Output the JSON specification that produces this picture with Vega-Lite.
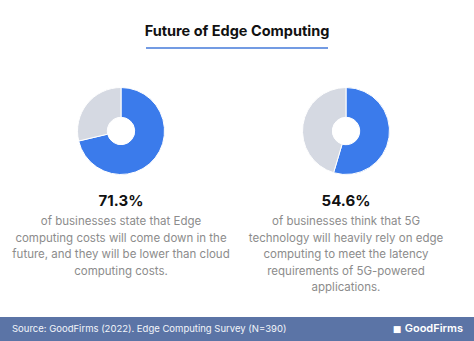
{
  "$schema": "https://vega.github.io/schema/vega-lite/v6.json",
  "width": 474,
  "height": 341,
  "autosize": {"type": "fit", "contains": "padding"},
  "padding": 0,
  "background": "white",
  "config": {"view": {"stroke": null}, "font": "Inter"},
  "datasets": {
    "shares": [
      {"panel": "left", "answer": "agree", "share": 0.713},
      {"panel": "left", "answer": "other", "share": 0.287},
      {"panel": "right", "answer": "agree", "share": 0.546},
      {"panel": "right", "answer": "other", "share": 0.454}
    ],
    "captions": [
      {"panel": "left", "line": 1, "text": "of businesses state that Edge"},
      {"panel": "left", "line": 2, "text": "computing costs will come down in the"},
      {"panel": "left", "line": 3, "text": "future, and they will be lower than cloud"},
      {"panel": "left", "line": 4, "text": "computing costs."},
      {"panel": "right", "line": 1, "text": "of businesses think that 5G"},
      {"panel": "right", "line": 2, "text": "technology will heavily rely on edge"},
      {"panel": "right", "line": 3, "text": "computing to meet the latency"},
      {"panel": "right", "line": 4, "text": "requirements of 5G-powered"},
      {"panel": "right", "line": 5, "text": "applications."}
    ],
    "headline": [{"text": "Future of Edge Computing"}],
    "footer": [{"source": "Source: GoodFirms (2022). Edge Computing Survey (N=390)", "brand": "GoodFirms", "icon": "■"}]
  },
  "layer": [
    {
      "data": {"name": "footer"},
      "mark": {"type": "rect", "color": "#5b74a6"},
      "encoding": {"x": {"value": 0}, "x2": {"value": 474}, "y": {"value": 317}, "y2": {"value": 341}}
    },
    {
      "data": {"name": "footer"},
      "mark": {"type": "text", "align": "left", "baseline": "middle", "fontSize": 9.5, "color": "#f2f4fa", "x": 12, "y": 329},
      "encoding": {"text": {"field": "source"}}
    },
    {
      "data": {"name": "footer"},
      "mark": {"type": "text", "align": "right", "baseline": "middle", "fontSize": 11, "fontWeight": 600, "color": "#ffffff", "x": 463, "y": 329},
      "encoding": {"text": {"field": "brand"}}
    },
    {
      "data": {"name": "footer"},
      "mark": {"type": "text", "align": "center", "baseline": "middle", "fontSize": 9, "font": "DejaVu Sans", "color": "#ffffff", "x": 397, "y": 329},
      "encoding": {"text": {"field": "icon"}}
    },
    {
      "data": {"name": "headline"},
      "mark": {"type": "text", "align": "center", "baseline": "middle", "fontSize": 14.5, "fontWeight": "bold", "color": "#111111", "x": 237, "y": 32},
      "encoding": {"text": {"field": "text"}}
    },
    {
      "data": {"name": "headline"},
      "mark": {"type": "rule", "color": "#739be3", "strokeWidth": 2},
      "encoding": {"x": {"value": 146}, "x2": {"value": 328}, "y": {"value": 48}}
    },
    {
      "data": {"name": "shares"},
      "transform": [
        {"stack": "share", "groupby": ["panel"], "sort": [{"field": "answer", "order": "ascending"}], "as": ["share_start", "share_end"]}
      ],
      "mark": {"type": "arc", "outerRadius": 43.5, "innerRadius": 13.7, "stroke": "white", "strokeWidth": 1},
      "encoding": {
        "x": {"field": "panel", "type": "nominal", "scale": {"type": "point", "domain": ["left", "right"], "range": [121, 346], "padding": 0}, "axis": null},
        "y": {"value": 131},
        "theta": {"field": "share_start", "type": "quantitative", "scale": {"domain": [0, 1]}},
        "theta2": {"field": "share_end"},
        "color": {"field": "answer", "type": "nominal", "scale": {"domain": ["agree", "other"], "range": ["#3b7beb", "#d5d9e2"]}, "legend": null}
      }
    },
    {
      "data": {"name": "shares"},
      "transform": [{"filter": "datum.answer == 'agree'"}],
      "mark": {"type": "text", "align": "center", "baseline": "middle", "fontSize": 15, "fontWeight": "bold", "color": "#111111"},
      "encoding": {
        "x": {"field": "panel", "type": "nominal", "scale": {"type": "point", "domain": ["left", "right"], "range": [121, 346], "padding": 0}, "axis": null},
        "y": {"value": 201},
        "text": {"field": "share", "type": "quantitative", "format": ".1%"}
      }
    },
    {
      "data": {"name": "captions"},
      "mark": {"type": "text", "align": "center", "baseline": "middle", "fontSize": 11.5, "color": "#8c8c8c"},
      "encoding": {
        "x": {"field": "panel", "type": "nominal", "scale": {"type": "point", "domain": ["left", "right"], "range": [121, 346], "padding": 0}, "axis": null},
        "y": {"field": "line", "type": "quantitative", "scale": {"domain": [1, 5], "range": [222, 288]}, "axis": null},
        "text": {"field": "text"}
      }
    }
  ]
}
